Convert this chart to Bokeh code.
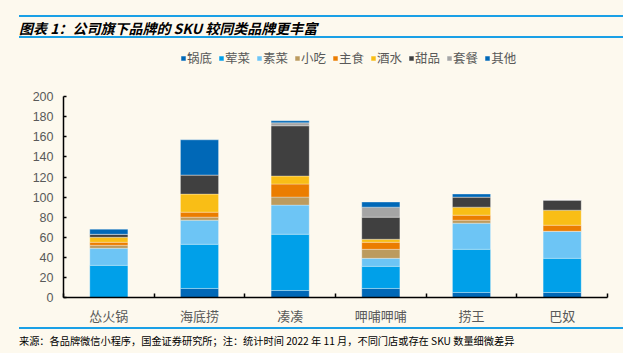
from bokeh.plotting import figure
from bokeh.models import ColumnDataSource, Range1d, FixedTicker, Legend, Div
from bokeh.layouts import column
from bokeh.embed import file_html
from bokeh.resources import INLINE

categories = ["怂火锅", "海底捞", "凑凑", "呷哺呷哺", "捞王", "巴奴"]
series_names = ["锅底", "荤菜", "素菜", "小吃", "主食", "酒水", "甜品", "套餐", "其他"]
guodi = [0, 9, 7, 9, 5, 5]
huncai = [32, 44, 56, 22, 43, 34]
sucai = [17, 24, 29, 8, 26, 27]
xiaochi = [3, 3, 8, 9, 3, 0]
zhushi = [3, 5, 13, 7, 5, 6]
jiushui = [5, 18, 8, 3, 8, 15]
tianpin = [3, 19, 50, 22, 10, 10]
taocan = [0, 0, 3, 10, 0, 0]
qita = [5, 35, 2, 5, 3, 0]
y_ticks = [0, 20, 40, 60, 80, 100, 120, 140, 160, 180, 200]
title_text = "图表 1：公司旗下品牌的 SKU 较同类品牌更丰富"
source_text = "来源：各品牌微信小程序，国金证券研究所；注：统计时间 2022 年 11 月，不同门店或存在 SKU 数量细微差异"

colors = ["#0068B7", "#00A0E9", "#6DC5F5", "#BC9B5E", "#EB7D00",
          "#F9BE16", "#404040", "#A5A5A5", "#0068B7"]

BG = "#FDF9EE"
BLUE = "#1AA0E6"
W = 623
CJK = "'Noto Sans CJK SC', sans-serif"

# ---------- top strip: title between two rules ----------
TOP_H = 44
top_html = (
    f'<div style="display:block;width:{W}px;height:{TOP_H}px;min-height:{TOP_H}px;'
    f'background:{BG};margin:0;padding:0;overflow:hidden;">'
    f'<div style="height:15px;margin:0;"></div>'
    f'<div style="margin:0 0 0 19px;height:23px;border-top:2px solid {BLUE};'
    f'border-bottom:2px solid {BLUE};line-height:23px;white-space:nowrap;'
    f'font-family:{CJK};font-size:14px;font-weight:bold;font-style:italic;color:#000;">{title_text}</div>'
    '</div>'
)
top = Div(text=top_html, width=W, height=TOP_H, margin=0,
          styles={"background-color": BG, "padding": "0", "margin": "0",
                  "height": f"{TOP_H}px", "overflow": "hidden"})

# ---------- main chart ----------
BOT_H = 26
MAIN_H = 353 - TOP_H - BOT_H      # canvas rows 44 .. 327
px_per_unit = 204 / 200.0
frame_h = 301 - TOP_H
y_end = frame_h / px_per_unit

data = {"x": [i + 0.5 for i in range(len(categories))]}
for name, vals in zip(series_names, [guodi, huncai, sucai, xiaochi, zhushi,
                                     jiushui, tianpin, taocan, qita]):
    data[name] = vals
source = ColumnDataSource(data)

p = figure(width=W, height=MAIN_H, output_backend="svg", toolbar_location=None,
           x_range=Range1d(0, len(categories)), y_range=Range1d(0, y_end),
           min_border_left=63, min_border_right=16, min_border_top=0,
           min_border_bottom=MAIN_H - frame_h, background_fill_color=BG,
           border_fill_color=BG, outline_line_color=None, margin=0)
p.grid.visible = False

renderers = p.vbar_stack(series_names, x="x", width=0.42, color=colors, source=source,
                         line_color="white", line_width=0.6, line_alpha=0.5)

p.yaxis.ticker = FixedTicker(ticks=y_ticks)
p.yaxis.bounds = (0, 200)
p.yaxis.axis_line_color = "black"
p.yaxis.axis_line_width = 1.5
p.yaxis.major_tick_in = 3
p.yaxis.major_tick_out = 0
p.yaxis.major_tick_line_color = "black"
p.yaxis.major_tick_line_width = 1.5
p.yaxis.minor_tick_line_color = None
p.yaxis.major_label_text_font = "Liberation Sans"
p.yaxis.major_label_text_font_size = "12.5px"
p.yaxis.major_label_text_color = "#595959"
p.yaxis.major_label_standoff = 10

p.xaxis.ticker = FixedTicker(ticks=data["x"], minor_ticks=list(range(len(categories) + 1)))
p.xaxis.major_label_overrides = {x: c for x, c in zip(data["x"], categories)}
p.xaxis.axis_line_color = "black"
p.xaxis.axis_line_width = 1.5
p.xaxis.major_tick_line_color = None
p.xaxis.major_tick_in = 0
p.xaxis.major_tick_out = 0
p.xaxis.minor_tick_in = 4
p.xaxis.minor_tick_out = 0
p.xaxis.minor_tick_line_color = "black"
p.xaxis.minor_tick_line_width = 1.5
p.xaxis.major_label_text_font = "Noto Sans CJK SC"
p.xaxis.major_label_text_font_size = "13px"
p.xaxis.major_label_text_color = "#595959"
p.xaxis.major_label_standoff = 8

items = [(n, [r]) for n, r in zip(series_names, renderers)]
legend = Legend(items=items, orientation="horizontal", location=(117, 301 - 71),
                glyph_width=6, glyph_height=6, label_standoff=1, spacing=6,
                padding=0, margin=0, label_height=12,
                label_text_font="Noto Sans CJK SC", label_text_font_size="12.5px",
                label_text_color="#595959", background_fill_alpha=0,
                border_line_color=None)
p.add_layout(legend, "center")

# ---------- bottom strip: rule and source ----------
bot_html = (
    f'<div style="display:block;width:{W}px;height:{BOT_H}px;background:{BG};margin:0;padding:0;overflow:hidden;">'
    f'<div style="margin:0 0 0 19px;height:20px;border-top:2px solid {BLUE};'
    f'padding-top:4px;line-height:16px;white-space:nowrap;'
    f'font-family:{CJK};font-size:10.2px;color:#000;">{source_text}</div>'
    '</div>'
)
bot = Div(text=bot_html, width=W, height=BOT_H, margin=0,
          styles={"background-color": BG, "padding": "0", "margin": "0",
                  "height": f"{BOT_H}px", "overflow": "hidden"})

layout = column(top, p, bot, spacing=0, margin=0,
                styles={"background-color": BG})
open("out.html", "w").write(file_html(layout, INLINE))
